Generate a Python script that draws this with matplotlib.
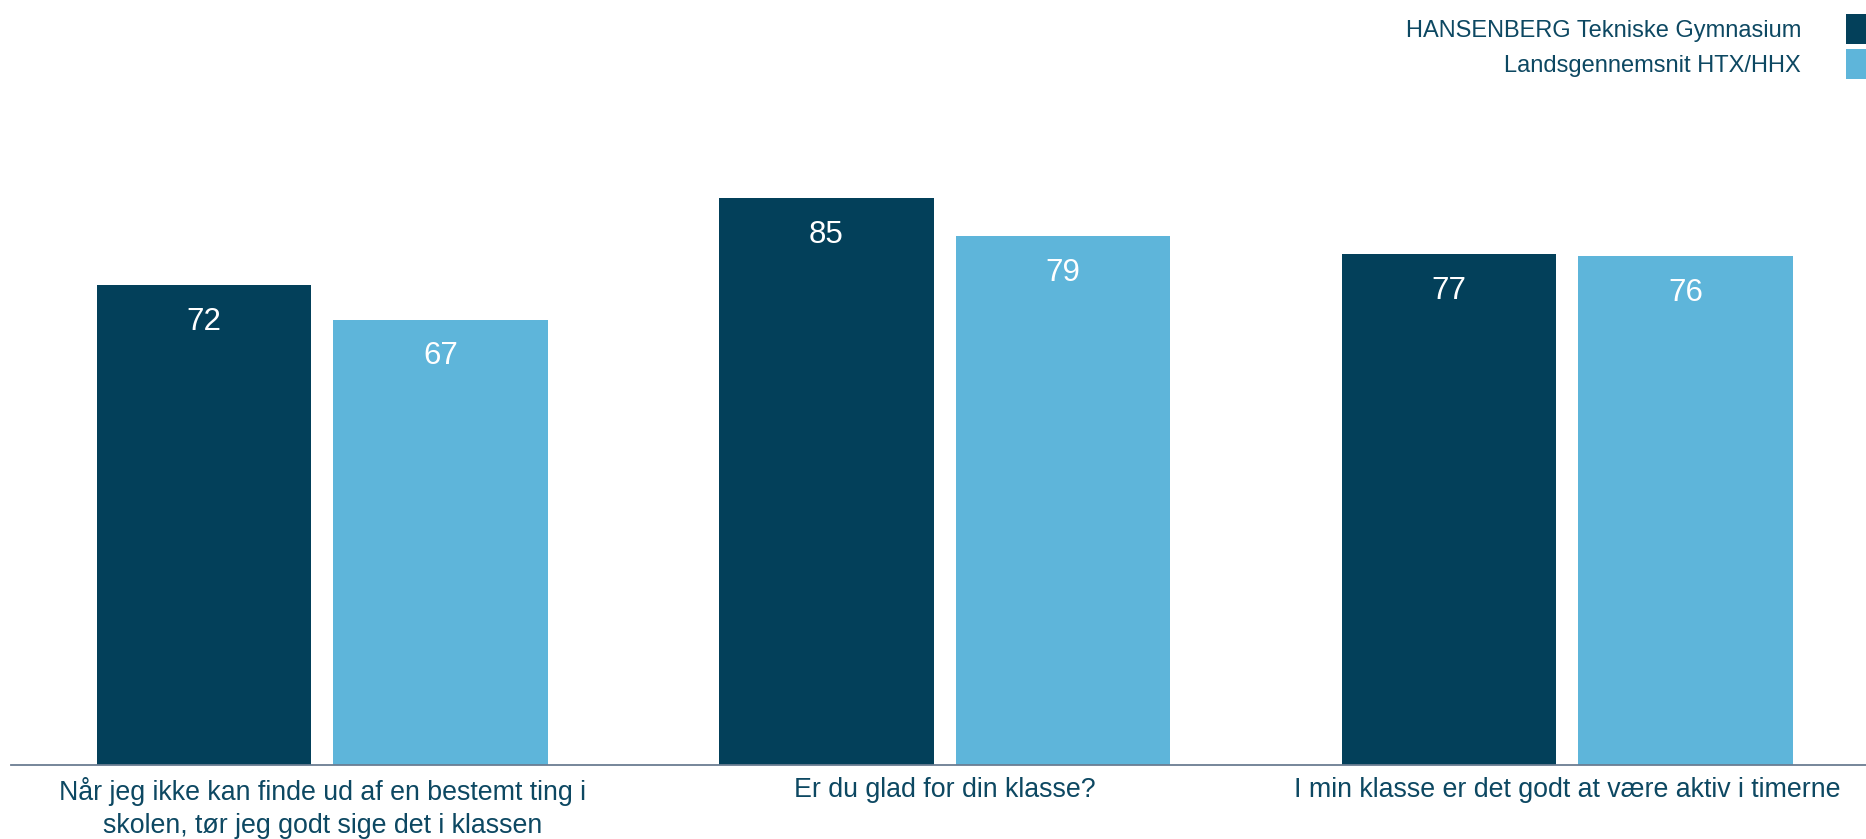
import matplotlib
matplotlib.use("Agg")
import matplotlib.pyplot as plt
import numpy as np

# data
categories = [
    "Når jeg ikke kan finde ud af en bestemt ting i\nskolen, tør jeg godt sige det i klassen",
    "Er du glad for din klasse?",
    "I min klasse er det godt at være aktiv i timerne",
]
series_names = ["HANSENBERG Tekniske Gymnasium", "Landsgennemsnit HTX/HHX"]
school_values = [72.0, 85.0, 76.6]
national_values = [66.8, 79.4, 76.4]
school_labels = ["72", "85", "77"]
national_labels = ["67", "79", "76"]

DARK = "#03405A"
LIGHT = "#5EB5DA"
TEXT = "#0D4862"
FONT = ["Liberation Sans", "DejaVu Sans"]

plt.rcParams["font.family"] = FONT

W, H = 1866, 839
fig = plt.figure(figsize=(W / 100, H / 100), dpi=100)
ax = fig.add_axes([11 / W, 74.5 / H, 1855 / W, 764.5 / H])

x = np.arange(len(categories))
width = 0.345
offset = 0.19

b1 = ax.bar(x - offset, school_values, width, color=DARK, label=series_names[0])
b2 = ax.bar(x + offset, national_values, width, color=LIGHT, label=series_names[1])

for bars, labels in ((b1, school_labels), (b2, national_labels)):
    for rect, lab in zip(bars, labels):
        ax.annotate(lab, (rect.get_x() + rect.get_width() / 2, rect.get_height()),
                    xytext=(0, -26.5), textcoords="offset points",
                    ha="center", va="center", color="white", fontsize=22.5)

ax.set_xlim(-0.5, 2.48)
ax.set_ylim(0, 114.8)
ax.set_yticks([])
ax.set_xticks(x)
ax.set_xticklabels(categories, fontsize=19.3, color=TEXT, linespacing=1.33)
ax.tick_params(axis="x", length=0, pad=9)
for side in ("top", "right", "left"):
    ax.spines[side].set_visible(False)
ax.spines["bottom"].set_color("#6B7D92")
ax.spines["bottom"].set_linewidth(1.3)

fig.legend(handles=[b1, b2], loc="upper right", bbox_to_anchor=(1.0, 1 - 14 / H),
           frameon=False, markerfirst=False, fontsize=17, labelcolor=TEXT,
           handlelength=0.85, handleheight=1.6, handletextpad=1.9,
           labelspacing=0.2, borderpad=0, borderaxespad=0)

fig.savefig("out.png", dpi=100)
